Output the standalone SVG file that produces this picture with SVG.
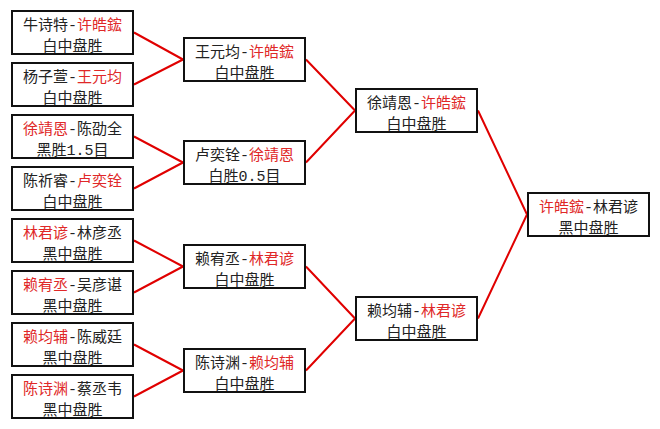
<svg xmlns="http://www.w3.org/2000/svg" width="660" height="429" viewBox="0 0 660 429">
<style>
.box{fill:#fff;stroke:#111;stroke-width:2}
text{font-family:"Liberation Mono","Noto Sans CJK SC",monospace;font-size:15px;fill:#222;text-anchor:middle}
.r{fill:#e02828}
.c{stroke:#e00000;stroke-width:2;fill:none}
</style>
<rect width="660" height="429" fill="#fff"/>
<g id="connectors">
<path class="c" d="M134 32.5L183 59.5M134 84.5L183 59.5M134 136.5L183 162.5M134 188.5L183 162.5M134 240.5L183 266.5M134 292.5L183 266.5M134 344.5L183 370.5M134 396.5L183 370.5"/>
<path class="c" d="M306 59.5L355 110.5M306 162.5L355 110.5M306 266.5L355 318.5M306 370.5L355 318.5"/>
<path class="c" d="M478 110.5L527 214.5M478 318.5L527 214.5"/>
</g>
<g id="n1"><rect class="box" x="12" y="11" width="121" height="43"/><text x="72.5" y="30">牛诗特-<tspan class="r">许皓鋐</tspan></text><text x="72.5" y="51">白中盘胜</text></g>
<g id="n2"><rect class="box" x="12" y="63" width="121" height="43"/><text x="72.5" y="82">杨子萱-<tspan class="r">王元均</tspan></text><text x="72.5" y="103">白中盘胜</text></g>
<g id="n3"><rect class="box" x="12" y="115" width="121" height="43"/><text x="72.5" y="134"><tspan class="r">徐靖恩</tspan>-陈劭全</text><text x="72.5" y="155">黑胜1.5目</text></g>
<g id="n4"><rect class="box" x="12" y="167" width="121" height="43"/><text x="72.5" y="186">陈祈睿-<tspan class="r">卢奕铨</tspan></text><text x="72.5" y="207">白中盘胜</text></g>
<g id="n5"><rect class="box" x="12" y="219" width="121" height="43"/><text x="72.5" y="238"><tspan class="r">林君谚</tspan>-林彦丞</text><text x="72.5" y="259">黑中盘胜</text></g>
<g id="n6"><rect class="box" x="12" y="271" width="121" height="43"/><text x="72.5" y="290"><tspan class="r">赖宥丞</tspan>-吴彦谌</text><text x="72.5" y="311">黑中盘胜</text></g>
<g id="n7"><rect class="box" x="12" y="323" width="121" height="43"/><text x="72.5" y="342"><tspan class="r">赖均辅</tspan>-陈威廷</text><text x="72.5" y="363">黑中盘胜</text></g>
<g id="n8"><rect class="box" x="12" y="375" width="121" height="43"/><text x="72.5" y="394"><tspan class="r">陈诗渊</tspan>-蔡丞韦</text><text x="72.5" y="415">黑中盘胜</text></g>
<g id="m1"><rect class="box" x="184" y="38" width="121" height="43"/><text x="244.5" y="57">王元均-<tspan class="r">许皓鋐</tspan></text><text x="244.5" y="78">白中盘胜</text></g>
<g id="m2"><rect class="box" x="184" y="141" width="121" height="43"/><text x="244.5" y="160">卢奕铨-<tspan class="r">徐靖恩</tspan></text><text x="244.5" y="181">白胜0.5目</text></g>
<g id="m3"><rect class="box" x="184" y="245" width="121" height="43"/><text x="244.5" y="264">赖宥丞-<tspan class="r">林君谚</tspan></text><text x="244.5" y="285">白中盘胜</text></g>
<g id="m4"><rect class="box" x="184" y="349" width="121" height="43"/><text x="244.5" y="368">陈诗渊-<tspan class="r">赖均辅</tspan></text><text x="244.5" y="389">白中盘胜</text></g>
<g id="s1"><rect class="box" x="356" y="89" width="121" height="43"/><text x="416.5" y="108">徐靖恩-<tspan class="r">许皓鋐</tspan></text><text x="416.5" y="129">白中盘胜</text></g>
<g id="s2"><rect class="box" x="356" y="297" width="121" height="43"/><text x="416.5" y="316">赖均辅-<tspan class="r">林君谚</tspan></text><text x="416.5" y="337">白中盘胜</text></g>
<g id="f"><rect class="box" x="528" y="193" width="121" height="43"/><text x="588.5" y="212"><tspan class="r">许皓鋐</tspan>-林君谚</text><text x="588.5" y="233">黑中盘胜</text></g>
</svg>
